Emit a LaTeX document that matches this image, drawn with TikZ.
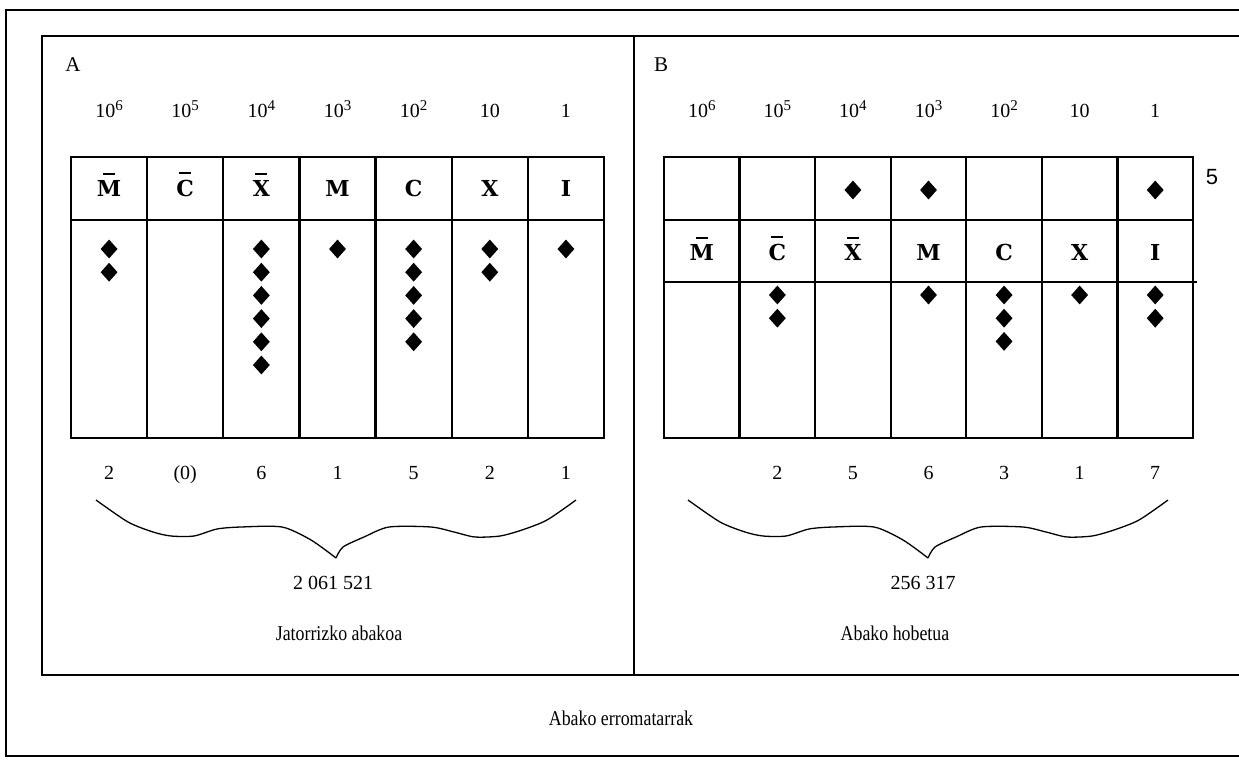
\documentclass[tikz,border=0pt]{standalone}
\usepackage{fontspec}
\setmainfont{Liberation Serif}
\newfontfamily\romfont{DejaVu Serif}
\newfontfamily\fivefont{Liberation Sans}
\usetikzlibrary{shapes.geometric}
\newcommand\powten[1]{10\raisebox{0.4em}{\fontsize{15}{15}\selectfont #1}}
\tikzset{
  outerframe/.style={line width=1.6pt},
  innerframe/.style={line width=2.6pt},
  gridline/.style={line width=2.2pt},
  bead/.style={diamond, fill=black, draw=none, inner sep=0pt, minimum width=17pt, minimum height=19pt},
  numlabel/.style={font=\fontsize{20}{20}\selectfont, inner sep=0pt, anchor=base},
  powlabel/.style={font=\fontsize{20}{20}\selectfont, inner sep=0pt, anchor=base},
  romlabel/.style={font=\romfont\bfseries\fontsize{22}{22}\selectfont, inner sep=0pt, anchor=base},
  overbar/.style={line width=2pt},
  panellabel/.style={font=\fontsize{21}{21}\selectfont, inner sep=0pt},
  caption/.style={font=\fontsize{21}{21}\selectfont, inner sep=0pt, xscale=0.85},
  bracecurve/.style={line width=1.3pt, line join=round},
}
\begin{document}
\begin{tikzpicture}[x=1pt,y=-1pt]
\useasboundingbox (0,0) rectangle (1239,765);
\fill[white] (0,0) rectangle (1239,765);
% frames
\draw[outerframe] (1245,10) -- (6,10) -- (6,756) -- (1245,756);
\draw[innerframe] (1245,36) -- (42,36) -- (42,675) -- (1245,675);
\draw[innerframe] (634,36) -- (634,675);
% panel labels
\node[panellabel] (lblA) at (73,65) {A};
\node[panellabel] (lblB) at (661,65) {B};
% ---------- Panel A ----------
\draw[gridline] (71,157) rectangle (604,438);
\draw[gridline] (71,220) -- (604,220);
\foreach \i in {1,...,6} {
  \pgfmathsetmacro\xx{71+76.143*\i}
  \draw[gridline] (\xx,157) -- (\xx,438);
}
\foreach \i/\t in {0/\powten{6},1/\powten{5},2/\powten{4},3/\powten{3},4/\powten{2},5/10,6/1} {
  \pgfmathsetmacro\cx{71+76.143*(\i+0.5)}
  \node[powlabel] (pA\i) at (\cx,118) {\t};
}
\foreach \i/\t/\b in {0/M/1,1/C/1,2/X/1,3/M/0,4/C/0,5/X/0,6/I/0} {
  \pgfmathsetmacro\cx{71+76.143*(\i+0.5)}
  \node[romlabel] (rA\i) at (\cx,196) {\t};
  \ifnum\b=1
    \draw[overbar] ([xshift=-6pt,yshift=6pt]rA\i.north) -- ([xshift=6pt,yshift=6pt]rA\i.north);
  \fi
}
\foreach \i/\n in {0/2,1/0,2/6,3/1,4/5,5/2,6/1} {
  \pgfmathsetmacro\cx{71+76.143*(\i+0.5)}
  \ifnum\n>0
    \foreach \k in {1,...,\n} {
      \node[bead] (dA-\i-\k) at (\cx,{249+23.2*(\k-1)}) {};
    }
  \fi
}
\foreach \i/\t in {0/2,1/(0),2/6,3/1,4/5,5/2,6/1} {
  \pgfmathsetmacro\cx{71+76.143*(\i+0.5)}
  \node[numlabel] (nA\i) at (\cx,479) {\t};
}
\draw[bracecurve] plot[smooth, tension=0.45] coordinates {(96,500) (128,522) (153,532) (171,536) (194,536) (217,529) (241,527) (282,527) (311,540) (336,558)};
\draw[bracecurve] plot[smooth, tension=0.45] coordinates {(336,558) (343,547) (364,537) (389,527) (431,527) (454,532) (475,537) (500,536) (522,530) (547,520) (576,500)};
\node[numlabel] (totA) at (333,589) {2 061 521};
\node[caption] (capA) at (339,633) {Jatorrizko abakoa};
% ---------- Panel B ----------
\draw[gridline] (664,157) rectangle (1193,438);
\draw[gridline] (664,220) -- (1193,220);
\draw[gridline] (664,282) -- (1197,282);
\foreach \i in {1,...,6} {
  \pgfmathsetmacro\xx{664+75.571*\i}
  \draw[gridline] (\xx,157) -- (\xx,438);
}
\foreach \i/\t in {0/\powten{6},1/\powten{5},2/\powten{4},3/\powten{3},4/\powten{2},5/10,6/1} {
  \pgfmathsetmacro\cx{664+75.571*(\i+0.5)}
  \node[powlabel] (pB\i) at (\cx,118) {\t};
}
\foreach \i/\t/\b in {0/M/1,1/C/1,2/X/1,3/M/0,4/C/0,5/X/0,6/I/0} {
  \pgfmathsetmacro\cx{664+75.571*(\i+0.5)}
  \node[romlabel] (rB\i) at (\cx,260) {\t};
  \ifnum\b=1
    \draw[overbar] ([xshift=-6pt,yshift=6pt]rB\i.north) -- ([xshift=6pt,yshift=6pt]rB\i.north);
  \fi
}
\foreach \i in {2,3,6} {
  \pgfmathsetmacro\cx{664+75.571*(\i+0.5)}
  \node[bead] (tB-\i) at (\cx,190) {};
}
\foreach \i/\n in {0/0,1/2,2/0,3/1,4/3,5/1,6/2} {
  \pgfmathsetmacro\cx{664+75.571*(\i+0.5)}
  \ifnum\n>0
    \foreach \k in {1,...,\n} {
      \node[bead] (dB-\i-\k) at (\cx,{295+23.2*(\k-1)}) {};
    }
  \fi
}
\foreach \i/\t in {1/2,2/5,3/6,4/3,5/1,6/7} {
  \pgfmathsetmacro\cx{664+75.571*(\i+0.5)}
  \node[numlabel] (nB\i) at (\cx,479) {\t};
}
\node[font=\fivefont\fontsize{22}{22}\selectfont, inner sep=0pt] (five) at (1212,177) {5};
\draw[bracecurve] plot[smooth, tension=0.45] coordinates {(688,500) (720,522) (745,532) (763,536) (786,536) (809,529) (833,527) (874,527) (903,540) (928,558)};
\draw[bracecurve] plot[smooth, tension=0.45] coordinates {(928,558) (935,547) (956,537) (981,527) (1023,527) (1046,532) (1067,537) (1092,536) (1114,530) (1139,520) (1168,500)};
\node[numlabel] (totB) at (923,589) {256 317};
\node[caption] (capB) at (895,633) {Abako hobetua};
% title
\node[caption] (title) at (621,718) {Abako erromatarrak};
\end{tikzpicture}
\end{document}
